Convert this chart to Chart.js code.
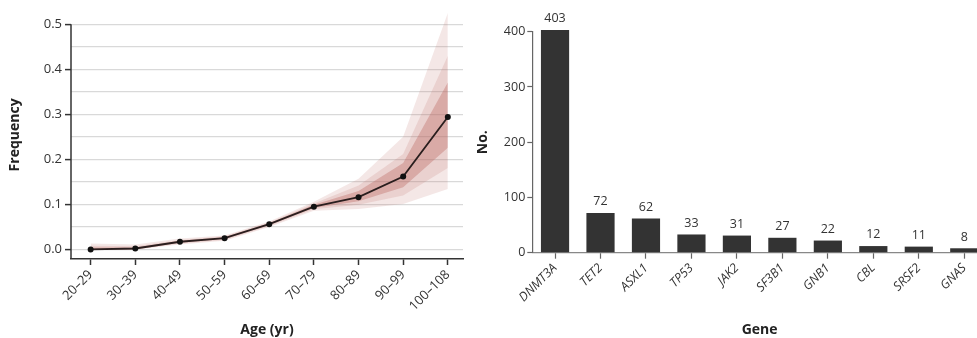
<!DOCTYPE html>
<html>
<head>
<meta charset="utf-8">
<script src="https://cdn.jsdelivr.net/npm/chart.js@4/dist/chart.umd.min.js"></script>
<style>
  html, body { margin: 0; padding: 0; background: #fff; overflow: hidden; width: 977px; height: 338px; }
  .panel { position: absolute; top: 0; height: 338px; }
  #ageWrap { left: 0; width: 470px; }
  #geneWrap { left: 470px; width: 520px; }
</style>
</head>
<body>
<div class="panel" id="ageWrap"><canvas id="ageChart"></canvas></div>
<div class="panel" id="geneWrap"><canvas id="geneChart"></canvas></div>
<script>
// Left panel: frequency by age group, with nested uncertainty bands
const ageGroups = ['20–29', '30–39', '40–49', '50–59', '60–69', '70–79', '80–89', '90–99', '100–108'];
const frequency = [0.000, 0.002, 0.017, 0.025, 0.056, 0.095, 0.116, 0.162, 0.294];
const outerHi = [0.013, 0.011, 0.024, 0.031, 0.062, 0.106, 0.157, 0.250, 0.525];
const midHi   = [0.008, 0.007, 0.021, 0.029, 0.060, 0.102, 0.142, 0.212, 0.430];
const innerHi = [0.004, 0.004, 0.019, 0.027, 0.058, 0.099, 0.130, 0.192, 0.371];
const innerLo = [0.000, 0.000, 0.015, 0.023, 0.054, 0.092, 0.107, 0.138, 0.226];
const midLo   = [0.000, 0.000, 0.013, 0.021, 0.052, 0.089, 0.099, 0.120, 0.181];
const outerLo = [0.000, 0.000, 0.011, 0.019, 0.050, 0.086, 0.090, 0.101, 0.134];
const freqTicks = [0, 0.05, 0.1, 0.15, 0.2, 0.25, 0.3, 0.35, 0.4, 0.45, 0.5];

// Right panel: counts per gene
const genes = ['DNMT3A', 'TET2', 'ASXL1', 'TP53', 'JAK2', 'SF3B1', 'GNB1', 'CBL', 'SRSF2', 'GNAS'];
const geneCounts = [403, 72, 62, 33, 31, 27, 22, 12, 11, 8];
const countTicks = [0, 100, 200, 300, 400];

const FONT = '"Open Sans"';
const TEXT = '#333';

function toPoints(values) {
  return values.map((v, i) => ({ x: i, y: v }));
}

function band(values, color, fill) {
  return {
    data: toPoints(values),
    borderWidth: 0,
    pointRadius: 0,
    backgroundColor: color,
    fill: fill,
    tension: 0
  };
}

// y axis line only runs up to the top tick (0.5), the bands go above it
const ageAxisLine = {
  id: 'ageAxisLine',
  afterDraw(chart) {
    const { ctx, chartArea } = chart;
    const top = chart.scales.y.getPixelForValue(0.5);
    ctx.save();
    ctx.strokeStyle = '#333';
    ctx.lineWidth = 1.5;
    ctx.beginPath();
    ctx.moveTo(chartArea.left, top);
    ctx.lineTo(chartArea.left, chartArea.bottom);
    ctx.stroke();
    ctx.restore();
  }
};

new Chart(document.getElementById('ageChart'), {
  type: 'line',
  data: {
    datasets: [
      {
        data: toPoints(frequency),
        borderColor: '#2a1e1e',
        borderWidth: 1.8,
        pointRadius: 3,
        pointBackgroundColor: '#111',
        pointBorderWidth: 0,
        fill: false,
        tension: 0
      },
      band(innerHi, 'rgba(190,110,105,0.40)', '+1'),
      band(innerLo, 'transparent', false),
      band(midHi, 'rgba(190,110,105,0.18)', '+1'),
      band(midLo, 'transparent', false),
      band(outerHi, 'rgba(190,110,105,0.17)', '+1'),
      band(outerLo, 'transparent', false)
    ]
  },
  options: {
    responsive: true,
    maintainAspectRatio: false,
    animation: false,
    layout: { padding: { top: 7.6, right: 7, left: 0, bottom: 0 } },
    plugins: { legend: { display: false }, tooltip: { enabled: false } },
    scales: {
      x: {
        type: 'linear',
        min: -0.44,
        max: 8.34,
        afterBuildTicks: (scale) => { scale.ticks = ageGroups.map((_, i) => ({ value: i })); },
        afterFit: (scale) => { scale.height = 79; },
        border: { display: true, color: '#333', width: 1.5 },
        grid: { drawOnChartArea: false, drawTicks: true, tickLength: 6, tickColor: '#333', tickWidth: 1.5 },
        ticks: {
          minRotation: 45,
          maxRotation: 45,
          padding: 2,
          color: TEXT,
          font: { family: FONT, size: 13 },
          callback: (v) => ageGroups[v]
        },
        title: {
          display: true,
          text: 'Age (yr)',
          color: '#222',
          font: { family: FONT, size: 14, weight: 'bold' },
          padding: { top: 2, bottom: 0 }
        }
      },
      y: {
        min: -0.0213,
        max: 0.53,
        afterBuildTicks: (scale) => { scale.ticks = freqTicks.map(v => ({ value: v })); },
        afterFit: (scale) => { scale.width = 71; },
        border: { display: false },
        grid: {
          color: '#d9d9d9',
          lineWidth: 1.2,
          drawTicks: true,
          tickLength: 6,
          tickWidth: 1.5,
          tickColor: (ctx) => (Math.round(ctx.tick.value * 100) % 10 === 0 ? '#333' : 'rgba(0,0,0,0)')
        },
        ticks: {
          padding: 3,
          color: TEXT,
          font: { family: FONT, size: 13 },
          callback: (v) => (Math.round(v * 100) % 10 === 0 ? v.toFixed(1) : '')
        },
        title: {
          display: true,
          text: 'Frequency',
          color: '#222',
          font: { family: FONT, size: 14, weight: 'bold' },
          padding: { top: 6.6, bottom: 0 }
        }
      }
    }
  },
  plugins: [ageAxisLine]
});

// numbers printed above each bar
const barValueLabels = {
  id: 'barValueLabels',
  afterDatasetsDraw(chart) {
    const { ctx } = chart;
    const meta = chart.getDatasetMeta(0);
    ctx.save();
    ctx.font = '12.5px ' + FONT;
    ctx.fillStyle = TEXT;
    ctx.textAlign = 'center';
    ctx.textBaseline = 'bottom';
    meta.data.forEach((bar, i) => {
      ctx.fillText(String(geneCounts[i]), bar.x, bar.y - 5);
    });
    ctx.restore();
  }
};

new Chart(document.getElementById('geneChart'), {
  type: 'bar',
  data: {
    labels: genes,
    datasets: [{
      data: geneCounts,
      backgroundColor: '#333333',
      borderWidth: 0,
      categoryPercentage: 1,
      barPercentage: 0.62,
      clip: false
    }]
  },
  options: {
    responsive: true,
    maintainAspectRatio: false,
    animation: false,
    layout: { padding: { top: 31.7, right: 3, left: 0, bottom: 0 } },
    plugins: { legend: { display: false }, tooltip: { enabled: false } },
    scales: {
      x: {
        afterFit: (scale) => { scale.height = 85.3; },
        border: { display: true, color: '#888', width: 1.2 },
        grid: { drawOnChartArea: false, offset: false, drawTicks: true, tickLength: 6, tickColor: '#666', tickWidth: 1.2 },
        ticks: {
          minRotation: 45,
          maxRotation: 45,
          padding: 2,
          color: TEXT,
          font: { family: FONT, size: 12.5, style: 'italic' }
        },
        title: {
          display: true,
          text: 'Gene',
          color: '#222',
          font: { family: FONT, size: 14, weight: 'bold' },
          padding: { top: 2, bottom: 0 }
        }
      },
      y: {
        min: 0,
        max: 400,
        afterBuildTicks: (scale) => { scale.ticks = countTicks.map(v => ({ value: v })); },
        afterFit: (scale) => { scale.width = 62.3; },
        border: { display: true, color: '#666', width: 1.2 },
        grid: { drawOnChartArea: false, drawTicks: true, tickLength: 5, tickColor: '#666', tickWidth: 1.2 },
        ticks: {
          padding: 2,
          color: TEXT,
          font: { family: FONT, size: 12.5 }
        },
        title: {
          display: true,
          text: 'No.',
          color: '#222',
          font: { family: FONT, size: 14, weight: 'bold' },
          padding: { top: 4.6, bottom: 0 }
        }
      }
    }
  },
  plugins: [barValueLabels]
});
</script>
</body>
</html>
